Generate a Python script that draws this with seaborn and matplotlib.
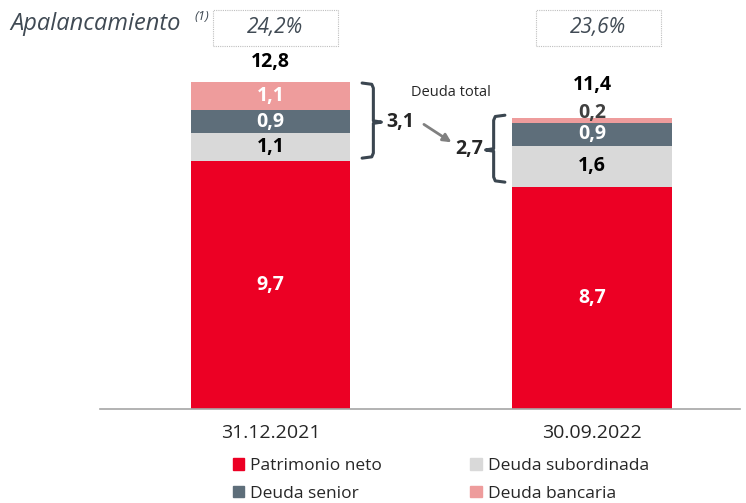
import pandas as pd
import matplotlib.pyplot as plt
import seaborn as sns
from matplotlib.patches import Patch, Rectangle

# values (bn)
fechas = ["31.12.2021", "30.09.2022"]
patrimonio = [9.7, 8.7]
subordinada = [1.1, 1.6]
senior = [0.9, 0.9]
bancaria = [1.1, 0.2]
totales = [12.8, 11.4]
deuda_total = [3.1, 2.7]
apalancamiento = ["24,2%", "23,6%"]

series = ["Patrimonio neto", "Deuda subordinada", "Deuda senior", "Deuda bancaria"]
colores = {"Patrimonio neto": "#EC0024", "Deuda subordinada": "#D9D9D9",
           "Deuda senior": "#5E6E7A", "Deuda bancaria": "#EE9C9C"}
txt_col = {"Patrimonio neto": "white", "Deuda subordinada": "black",
           "Deuda senior": "white", "Deuda bancaria": "white"}

df = pd.DataFrame({"fecha": fechas, "Patrimonio neto": patrimonio,
                   "Deuda subordinada": subordinada, "Deuda senior": senior,
                   "Deuda bancaria": bancaria})

sns.set_style("white")
plt.rcParams["font.family"] = ["Open Sans", "DejaVu Sans"]

fig = plt.figure(figsize=(7.46, 5.03), dpi=100)
ax = fig.add_axes([100 / 746, (503 - 409) / 503, 640 / 746, 327 / 503])

# stacked bars: draw cumulative sums from top to bottom
cum = df[series].cumsum(axis=1)
for s in reversed(series):
    sns.barplot(x=df["fecha"], y=cum[s], color=colores[s], width=0.495,
                ax=ax, saturation=1, edgecolor="none")

ax.set_xlim(-0.53, 1.46)
ax.set_ylim(0, 12.8)
sns.despine(ax=ax, left=True)
ax.spines["bottom"].set_color("#A6A6A6")
ax.spines["bottom"].set_linewidth(1.2)
ax.set_yticks([])
ax.set_xlabel("")
ax.set_ylabel("")
ax.tick_params(axis="x", length=0, pad=11, labelsize=14)

fs = 14
# segment labels
for i in range(len(fechas)):
    base = 0
    for s in series:
        v = df.loc[i, s]
        lbl = f"{v:.1f}".replace(".", ",")
        if v < 0.5:
            ax.text(i, base + v + 0.2, lbl, ha="center", va="center", fontsize=fs,
                    fontweight="bold", color="#404040")
        else:
            ax.text(i, base + v / 2, lbl, ha="center", va="center", fontsize=fs,
                    fontweight="bold", color=txt_col[s])
        base += v
    ax.text(i, totales[i] + 0.8 + (0.5 if i == 1 else 0), f"{totales[i]:.1f}".replace(".", ","),
            ha="center", va="center", fontsize=fs, fontweight="bold", color="black")

# brackets for total debt
bc = "#3B4650"
# left bracket "}" on bar 1
x0, lo, hi, mid = 0.285, 9.82, 12.76, 11.23
ax.plot([x0, x0 + 0.03, x0 + 0.035, x0 + 0.035, x0 + 0.06, x0 + 0.035, x0 + 0.035, x0 + 0.03, x0],
        [hi, hi - 0.05, hi - 0.2, mid + 0.05, mid, mid - 0.05, lo + 0.2, lo + 0.05, lo],
        color=bc, lw=2.2, clip_on=False, solid_capstyle="round")
ax.text(0.36, mid + 0.02, "3,1", ha="left", va="center",
        fontsize=fs, fontweight="bold")
# right bracket "{" on bar 2
x1, lo2, hi2, mid2 = 0.729, 8.88, 11.5, 10.14
ax.plot([x1, x1 - 0.03, x1 - 0.035, x1 - 0.035, x1 - 0.06, x1 - 0.035, x1 - 0.035, x1 - 0.03, x1],
        [hi2, hi2 - 0.05, hi2 - 0.2, mid2 + 0.05, mid2, mid2 - 0.05, lo2 + 0.2, lo2 + 0.05, lo2],
        color=bc, lw=2.2, clip_on=False, solid_capstyle="round")
ax.text(0.66, mid2 + 0.02, "2,7", ha="right", va="center",
        fontsize=fs, fontweight="bold")
ax.annotate("", xy=(0.57, 10.38), xytext=(0.47, 11.2),
            arrowprops=dict(arrowstyle="-|>", color="#808080", lw=2, mutation_scale=12))
ax.text(0.56, 12.4, "Deuda total", ha="center", va="center", fontsize=10.5)

# leverage row
fig.text(10 / 746, 1 - 24 / 503, "Apalancamiento", fontsize=17, style="italic",
         color="#404A54", va="center")
fig.text(194 / 746, 1 - 17 / 503, "(1)", fontsize=9.5, style="italic",
         color="#404A54", va="center")
for xb, t in zip([213, 536], apalancamiento):
    fig.add_artist(Rectangle((xb / 746, 1 - 46 / 503), 125 / 746, 36 / 503,
                             transform=fig.transFigure, fill=False,
                             edgecolor="#BFBFBF", lw=0.8, ls=(0, (1, 1))))
    fig.text((xb + 62) / 746, 1 - 28 / 503, t, fontsize=15, style="italic",
             color="#404A54", ha="center", va="center")

handles = [Patch(color=colores[s], label=s) for s in
           ["Patrimonio neto", "Deuda senior", "Deuda subordinada", "Deuda bancaria"]]
fig.legend(handles=handles, ncol=2, loc="center left", frameon=False,
           bbox_to_anchor=(217 / 746, 1 - 480 / 503), fontsize=12.5,
           handlelength=0.65, handleheight=0.65, handletextpad=0.35,
           columnspacing=5.1, labelspacing=0.65)

fig.savefig("out.png", dpi=100)
